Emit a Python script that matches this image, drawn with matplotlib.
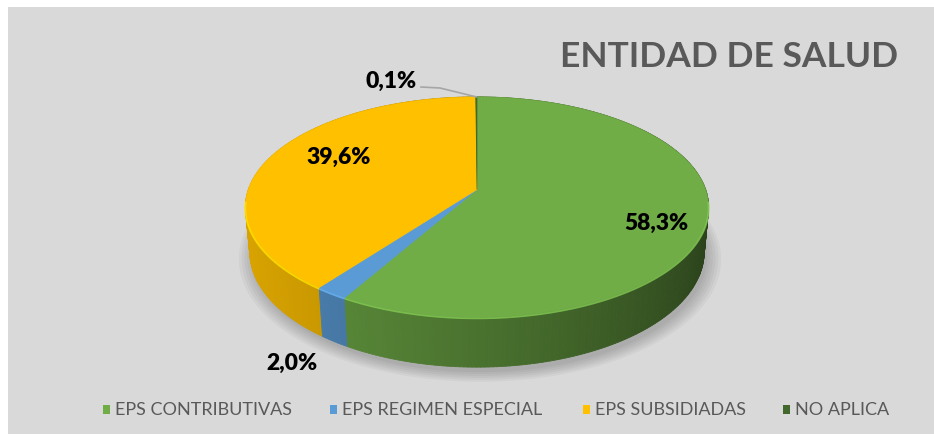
import numpy as np
import matplotlib
matplotlib.use("Agg")
import matplotlib.pyplot as plt
from matplotlib.patches import Polygon, Rectangle
from matplotlib.colors import to_rgb

# ---- data ----
categories = ["EPS CONTRIBUTIVAS", "EPS REGIMEN ESPECIAL", "EPS SUBSIDIADAS", "NO APLICA"]
values = [58.3, 2.0, 39.6, 0.1]
colors = ["#70AD47", "#5B9BD5", "#FFC000", "#43682B"]
title = "ENTIDAD DE SALUD"

# ---- style / geometry ----
W, H = 934, 434
CX, CY = 477, 189.5
F = 1269
ALPHA = np.radians(28)
DIST = 5.55
THICK = 0.225
FONT = ["Lato", "DejaVu Sans"]

label_pos = [(656, 223), (292, 363), (339, 157), (391, 81)]
legend_marker_x = [106, 333, 586, 786]
legend_y = 410


def project(X, Y, Z):
    ca, sa = np.cos(ALPHA), np.sin(ALPHA)
    depth = DIST - Y * sa - Z * ca
    yc = Y * ca - Z * sa
    return CX + F * X / depth, CY - F * yc / depth


def circ(c):
    a = 2 * np.pi * np.asarray(c)
    return np.sin(a), -np.cos(a)


fig = plt.figure(figsize=(W / 100, H / 100), dpi=100)
fig.patch.set_facecolor("white")
ax = fig.add_axes([0, 0, 1, 1])
ax.set_xlim(0, W)
ax.set_ylim(H, 0)
ax.axis("off")
ax.add_patch(Rectangle((8, 7), W - 8, H - 7, facecolor="#D9D9D9", edgecolor="none", zorder=0))

total = sum(values)
cum = np.concatenate([[0], np.cumsum(values) / total])

# soft shadow under the pie
tt = np.linspace(0, 1, 200)
X, Z = circ(tt)
for i, s in enumerate(np.linspace(1.06, 1.0, 6)):
    px, py = project(X * s, -THICK, Z * s)
    ax.add_patch(Polygon(np.column_stack([px + 3, py + 5]), closed=True,
                         facecolor="#000000", edgecolor="none", alpha=0.035, zorder=1))

# outer walls: segments sorted back-to-front
segs = []
for i, (a0, a1) in enumerate(zip(cum[:-1], cum[1:])):
    n = max(2, int((a1 - a0) * 400))
    ts = np.linspace(a0, a1, n + 1)
    for t0, t1 in zip(ts[:-1], ts[1:]):
        segs.append((i, t0, t1))


def zmid(s):
    return circ((s[1] + s[2]) / 2)[1]


segs.sort(key=zmid)
for k, (i, t0, t1) in enumerate(segs):
    Xs, Zs = circ([t0, t1])
    xt, yt = project(Xs, 0.0, Zs)
    xb, yb = project(Xs, -THICK, Zs)
    poly = [(xt[0], yt[0]), (xt[1], yt[1]), (xb[1], yb[1]), (xb[0], yb[0])]
    Xm, Zm = circ((t0 + t1) / 2)
    dot = -Xm * 0.8 + Zm * 0.2
    fac = np.clip(0.6 + 0.3 * dot, 0.3, 1.0)
    col = tuple(np.array(to_rgb(colors[i])) * fac)
    ax.add_patch(Polygon(poly, closed=True, facecolor=col, edgecolor=col,
                         linewidth=0.6, zorder=2 + k * 1e-4))

# top faces
ox, oy = project(0.0, 0.0, 0.0)
for i, (a0, a1) in enumerate(zip(cum[:-1], cum[1:])):
    ts = np.linspace(a0, a1, max(3, int((a1 - a0) * 600)))
    Xs, Zs = circ(ts)
    px, py = project(Xs, 0.0, Zs)
    pts = np.column_stack([np.concatenate([[ox], px]), np.concatenate([[oy], py])])
    ax.add_patch(Polygon(pts, closed=True, facecolor=colors[i], edgecolor=colors[i],
                         linewidth=0.5, zorder=5))
    # subtle bevel highlight on the front edge
    front = Zs > 0.1
    if front.sum() > 1:
        hl = tuple(np.clip(np.array(to_rgb(colors[i])) * 1.18, 0, 1))
        ax.plot(px[front], py[front] + 1.2, color=hl, linewidth=1.3, alpha=0.8,
                zorder=6, solid_capstyle="butt")

# data labels
for v, (lx, ly) in zip(values, label_pos):
    ax.text(lx, ly, f"{v:.1f}%".replace(".", ","), ha="center", va="center",
            fontsize=16.5, fontweight="heavy", color="#000000", family=FONT, zorder=10)

# leader line for the smallest slice
mx, mz = circ((cum[-2] + cum[-1]) / 2)
tx, ty = project(mx, 0.0, mz)
lx, ly = label_pos[3]
ax.plot([lx + 30, lx + 49, tx], [ly + 6, ly + 7, ty], color="#A6A6A6",
        linewidth=1.2, zorder=9)

# title
ax.text(898, 67, title, ha="right", va="baseline", fontsize=25.5, fontweight="bold",
        color="#595959", family=FONT, zorder=10)

# legend
for name, col, mxp in zip(categories, colors, legend_marker_x):
    ax.add_patch(Rectangle((mxp - 3.5, legend_y - 5), 7, 9, facecolor=col,
                           edgecolor="none", zorder=10))
    ax.text(mxp + 9, legend_y, name, ha="left", va="center", fontsize=13,
            color="#595959", family=FONT, zorder=10)

fig.savefig("out.png", dpi=100, facecolor=fig.get_facecolor())
